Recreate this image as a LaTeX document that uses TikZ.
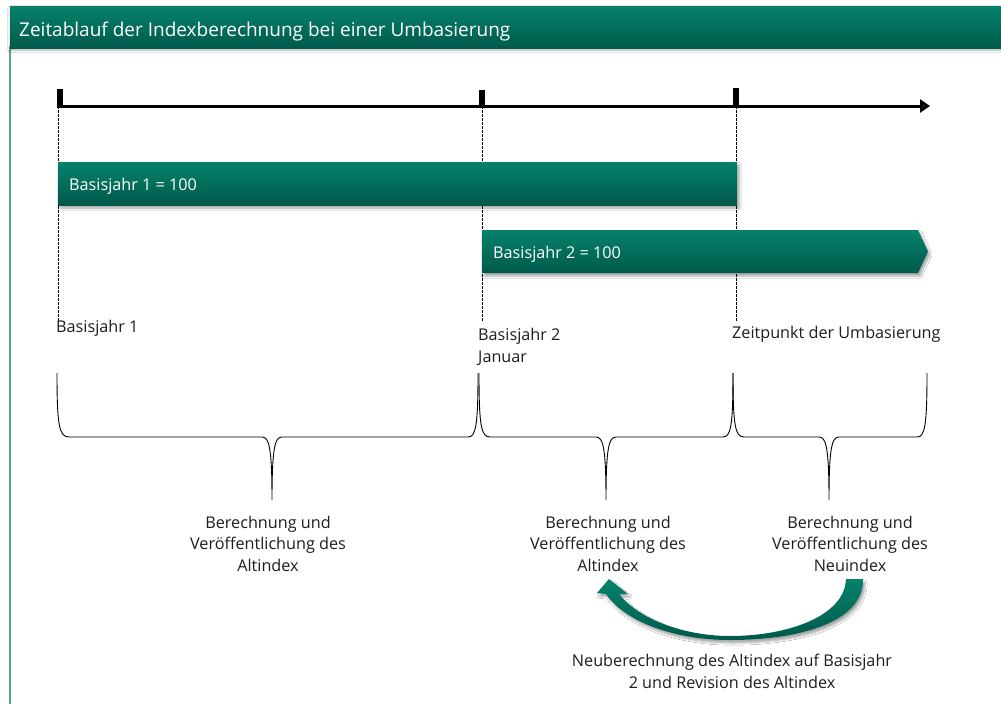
\documentclass[tikz,border=0pt]{standalone}
\usepackage{fontspec}
\setmainfont{Open Sans}
\usetikzlibrary{arrows.meta,shadows.blur}
\definecolor{tealtop}{RGB}{6,130,108}
\definecolor{tealbot}{RGB}{0,89,75}
\definecolor{framecol}{RGB}{92,158,152}
\definecolor{txtcol}{RGB}{30,30,30}
\tikzset{
  greenfill/.style={top color=tealtop, bottom color=tealbot, draw=none},
  barshadow/.style={blur shadow={shadow xshift=2pt, shadow yshift=-3pt, shadow blur steps=6, shadow opacity=35}},
  bodytext/.style={text=txtcol, inner sep=0pt, font=\fontsize{16.2}{21.5}\selectfont},
  bartext/.style={text=white, inner sep=0pt, font=\fontsize{16.2}{20}\selectfont, anchor=base west},
  dashline/.style={black, line width=0.6pt, dash pattern=on 2.5pt off 1.5pt},
  bracepath/.style={black, line width=0.9pt},
  tickmark/.style={fill=black, draw=none}
}
\begin{document}
\begin{tikzpicture}[x=1pt,y=-1pt]
\useasboundingbox (0,0) rectangle (1001,704);
\fill[white] (0,0) rectangle (1001,704);
% frame and title bar
\draw[framecol, line width=2.5pt] (10,46) -- (10,704);
\path[greenfill, blur shadow={shadow xshift=0pt, shadow yshift=-2pt, shadow blur steps=5, shadow opacity=30}] (10,6) rectangle (1001,48);
\node[text=white, inner sep=0pt, anchor=base west, font=\fontsize{19}{22}\selectfont] (title) at (19,36) {Zeitablauf der Indexberechnung bei einer Umbasierung};
% timeline
\coordinate (t1) at (58,106);
\coordinate (t2) at (482,106);
\coordinate (t3) at (736,106);
\coordinate (tend) at (930,106);
\draw[line width=3pt, -{Triangle[length=10pt,width=13pt]}] (57,106) -- (tend);
\fill[tickmark] (57,89) rectangle (63,106);
\fill[tickmark] (479,90) rectangle (485,106);
\fill[tickmark] (733,88) rectangle (739,106);
% dashed guide lines
\coordinate (d1) at (58,322);
\coordinate (d2) at (482,322);
\coordinate (d3) at (736,322);
\draw[dashline] (t1) -- (d1);
\draw[dashline] (t2) -- (d2);
\draw[dashline] (t3) -- (d3);
% bars
\path[greenfill, barshadow] (58,162) rectangle (737,205);
\node[bartext] (bar1) at (69,190) {Basisjahr 1 = 100};
\path[greenfill, barshadow] (482,230) -- (918,230) -- (928,251.5) -- (918,273) -- (482,273) -- cycle;
\node[bartext] (bar2) at (493,258) {Basisjahr 2 = 100};
% labels under timeline
\node[bodytext, anchor=base west] (lab1) at (56,332) {Basisjahr 1};
\node[bodytext, anchor=base west, align=left] (lab2) at (478,362) {Basisjahr 2\\Januar};
\node[bodytext, anchor=base west] (lab3) at (732,338) {Zeitpunkt der Umbasierung};
% braces
\draw[bracepath] (57,373) .. controls (57,425) and (59,437) .. (69,437) -- (262,437)
  .. controls (269,437) and (272,447) .. (272,500)
  .. controls (272,447) and (275,437) .. (282,437) -- (468,437)
  .. controls (476,437) and (478,425) .. (478,373);
\draw[bracepath] (479,373) .. controls (479,425) and (481,437) .. (490,437) -- (596,437)
  .. controls (603,437) and (606,447) .. (606,500)
  .. controls (606,447) and (609,437) .. (616,437) -- (723,437)
  .. controls (731,437) and (733,425) .. (733,373);
\draw[bracepath] (733,373) .. controls (733,425) and (735,437) .. (744,437) -- (819,437)
  .. controls (826,437) and (829,447) .. (829,500)
  .. controls (829,447) and (832,437) .. (839,437) -- (917,437)
  .. controls (925,437) and (927,425) .. (927,373);
% brace labels
\node[bodytext, anchor=base, align=center] (txt1) at (268,571) {Berechnung und\\Veröffentlichung des\\Altindex};
\node[bodytext, anchor=base, align=center] (txt2) at (608,571) {Berechnung und\\Veröffentlichung des\\Altindex};
\node[bodytext, anchor=base, align=center] (txt3) at (850,571) {Berechnung und\\Veröffentlichung des\\Neuindex};
% curved arrow
\path[greenfill, blur shadow={shadow xshift=2pt, shadow yshift=-3pt, shadow blur steps=6, shadow opacity=35}]
  (863,579) .. controls (864,622) and (800,640) .. (730,640)
  .. controls (675,640) and (625,622) .. (606,594)
  -- (597,593) -- (609,579) -- (628,594) -- (619,594)
  .. controls (640,620) and (685,636) .. (730,636)
  .. controls (790,636) and (845,615) .. (846,579) -- cycle;
% bottom text
\node[bodytext, anchor=base, align=center] (txt4) at (732,688) {Neuberechnung des Altindex auf Basisjahr\\2 und Revision des Altindex};
\end{tikzpicture}
\end{document}
